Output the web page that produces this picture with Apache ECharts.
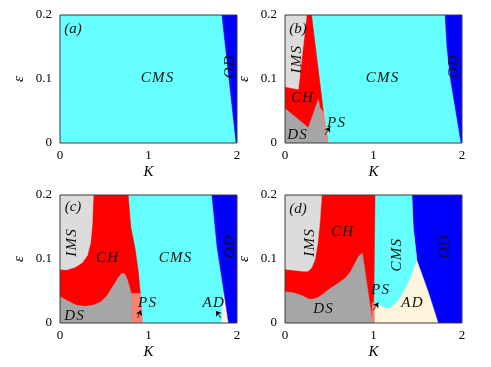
<!DOCTYPE html>
<html>
<head>
<meta charset="utf-8">
<script src="https://cdn.jsdelivr.net/npm/echarts@6/dist/echarts.min.js"></script>
<style>
html, body { margin: 0; background: #fff; }
#main { width: 491px; height: 367px; }
</style>
</head>
<body>
<div id="main"></div>
<script>
// ticks
var kTicks = [0, 1, 2];
var epsTicks = [0, 0.1, 0.2];

// region boundaries, [K, eps]
// (a)
var cmsA = [[0, 0], [2, 0], [2, 0.2], [0, 0.2]];
var odA = [[1.83, 0.2], [2, 0.2], [2, 0], [1.99, 0]];

// (b)
var cmsB = [[0, 0], [2, 0], [2, 0.2], [0, 0.2]];
var odB = [[1.81, 0.2], [2, 0.2], [2, 0], [1.99, 0], [1.93, 0.05], [1.87, 0.1], [1.83, 0.15]];
var chB = [[0, 0.2], [0.3, 0.2], [0.435, 0.048], [0.42, 0], [0, 0]];
var psB = [[0.4, 0.055], [0.435, 0.048], [0.49, 0], [0.42, 0]];
var dsB = [[0, 0], [0, 0.054], [0.264, 0.024], [0.377, 0.068], [0.47, 0]];
var imsB = [[0, 0.2], [0.245, 0.2], [0.15, 0.084], [0, 0.088]];

// (c)
var cmsC = [[0, 0], [2, 0], [2, 0.2], [0, 0.2]];
var adC = [[1.845, 0.045], [1.95, 0.045], [1.95, 0], [1.825, 0]];
var odC = [[1.717, 0.2], [2, 0.2], [2, 0], [1.905, 0], [1.84, 0.06], [1.774, 0.12]];
var chC = [[0, 0.2], [0.77, 0.2], [0.8, 0.15], [0.85, 0.115], [0.885, 0.08], [0.905, 0.05], [0.91, 0.046], [0.81, 0.046], [0.81, 0], [0, 0]];
var psC = [[0.81, 0.046], [0.91, 0.046], [0.935, 0], [0.81, 0]];
var dsC = [[0, 0], [0, 0.041], [0.08, 0.035], [0.18, 0.028], [0.28, 0.026], [0.38, 0.028], [0.46, 0.033],
  [0.53, 0.042], [0.6, 0.058], [0.66, 0.071], [0.7, 0.078], [0.73, 0.077], [0.76, 0.068], [0.79, 0.054], [0.81, 0.044], [0.81, 0]];
var imsC = [[0, 0.2], [0.377, 0.2], [0.365, 0.155], [0.345, 0.125], [0.31, 0.106], [0.25, 0.094], [0.17, 0.087], [0.07, 0.083], [0, 0.084]];

// (d)
var adD = [[0, 0], [2, 0], [2, 0.2], [0, 0.2]];
var odD = [[1.434, 0.2], [2, 0.2], [2, 0], [1.736, 0], [1.62, 0.05], [1.49, 0.1], [1.45, 0.148]];
var cmsD = [[1.0, 0.2], [1.434, 0.2], [1.45, 0.148], [1.49, 0.1], [1.413, 0.07], [1.337, 0.049], [1.262, 0.033],
  [1.186, 0.024], [1.13, 0.024], [1.073, 0.029], [1.04, 0.031], [1.0, 0.03]];
var chD = [[0, 0.2], [1.017, 0.2], [1.005, 0.05], [0.998, 0], [0, 0]];
var psD = [[0.985, 0.032], [1.008, 0.032], [1.01, 0], [0.985, 0]];
var dsD = [[0, 0], [0, 0.049], [0.1, 0.047], [0.19, 0.043], [0.26, 0.038], [0.3, 0.037], [0.36, 0.039], [0.42, 0.044],
  [0.49, 0.052], [0.58, 0.06], [0.68, 0.07], [0.74, 0.08], [0.79, 0.093], [0.83, 0.104], [0.874, 0.109], [0.99, 0]];
var imsD = [[0, 0.2], [0.415, 0.2], [0.395, 0.16], [0.37, 0.125], [0.34, 0.1], [0.3, 0.086], [0.26, 0.081], [0.2, 0.081], [0, 0.084]];

var col = {
  CMS: '#66ffff', OD: '#0000ff', CH: '#ff0000', IMS: '#dcdcdc',
  DS: '#a6a6a6', PS: '#fa8072', AD: '#fdf5dc'
};

// text placement [K, eps, text, rotated]
var notesA = [[0.147, 0.178, '(a)', 0], [1.096, 0.102, 'CMS', 0], [1.92, 0.119, 'OD', 1]];
var notesB = [[0.147, 0.178, '(b)', 0], [0.136, 0.13, 'IMS', 1], [1.096, 0.102, 'CMS', 0], [1.91, 0.119, 'OD', 1],
  [0.192, 0.07, 'CH', 0], [0.136, 0.0125, 'DS', 0], [0.576, 0.031, 'PS', 0]];
var notesC = [[0.147, 0.181, '(c)', 0], [0.136, 0.125, 'IMS', 1], [0.531, 0.102, 'CH', 0], [1.3, 0.102, 'CMS', 0],
  [1.92, 0.119, 'OD', 1], [0.983, 0.031, 'PS', 0], [0.158, 0.011, 'DS', 0], [1.73, 0.031, 'AD', 0]];
var notesD = [[0.147, 0.178, '(d)', 0], [0.282, 0.125, 'IMS', 1], [0.644, 0.142, 'CH', 0], [1.266, 0.106, 'CMS', 1],
  [1.81, 0.119, 'OD', 1], [1.073, 0.052, 'PS', 0], [0.429, 0.022, 'DS', 0], [1.435, 0.031, 'AD', 0]];

var arrowsB = [[[0.452, 0.0125], [0.508, 0.025]]];
var arrowsC = [[[0.878, 0.0083], [0.915, 0.02]], [[1.82, 0.0078], [1.763, 0.019]]];
var arrowsD = [[[0.998, 0.02], [1.054, 0.032]]];

var panels = [
  { left: 60, top: 15, regions: [[cmsA, 'CMS'], [odA, 'OD']], notes: notesA, arrows: [] },
  { left: 285, top: 15, regions: [[cmsB, 'CMS'], [odB, 'OD'], [chB, 'CH'], [psB, 'PS'], [dsB, 'DS'], [imsB, 'IMS']], notes: notesB, arrows: arrowsB },
  { left: 60, top: 195, regions: [[cmsC, 'CMS'], [adC, 'AD'], [odC, 'OD'], [chC, 'CH'], [psC, 'PS'], [dsC, 'DS'], [imsC, 'IMS']], notes: notesC, arrows: arrowsC },
  { left: 285, top: 195, regions: [[adD, 'AD'], [odD, 'OD'], [cmsD, 'CMS'], [chD, 'CH'], [psD, 'PS'], [dsD, 'DS'], [imsD, 'IMS']], notes: notesD, arrows: arrowsD }
];

var serif = '"Liberation Serif", "DejaVu Serif", serif';
var grids = [], xAxes = [], yAxes = [], series = [];

// thin gaps between letters, a bit like the math italic of the original
function spaced(s) {
  return s.charAt(0) === '(' ? s : s.split('').join('\u200a');
}

panels.forEach(function (p, i) {
  grids.push({ left: p.left, top: p.top, width: 177, height: 128 });
  xAxes.push({
    gridIndex: i, type: 'value', min: kTicks[0], max: kTicks[kTicks.length - 1], interval: 1,
    name: 'K', nameLocation: 'middle', nameGap: 22,
    nameTextStyle: { fontFamily: serif, fontStyle: 'italic', fontSize: 15, color: '#000' },
    axisLine: { show: false }, axisTick: { show: false }, splitLine: { show: false },
    axisLabel: { fontFamily: serif, fontSize: 13, color: '#000', margin: 6 }
  });
  yAxes.push({
    gridIndex: i, type: 'value', min: epsTicks[0], max: epsTicks[epsTicks.length - 1], interval: 0.1,
    name: 'ε', nameLocation: 'middle', nameGap: 33,
    nameTextStyle: { fontFamily: serif, fontStyle: 'italic', fontSize: 15, color: '#000' },
    axisLine: { show: false }, axisTick: { show: false }, splitLine: { show: false },
    axisLabel: { fontFamily: serif, fontSize: 13, color: '#000', margin: 8 }
  });

  p.regions.forEach(function (r) {
    var pts = r[0], c = col[r[1]];
    series.push({
      type: 'custom', xAxisIndex: i, yAxisIndex: i, clip: true, silent: true,
      data: [[0, 0]],
      renderItem: function (params, api) {
        return {
          type: 'polygon',
          shape: { points: pts.map(function (q) { return api.coord(q); }) },
          style: { fill: c, stroke: c, lineWidth: 0.5 }
        };
      }
    });
  });

  // frame
  series.push({
    type: 'custom', xAxisIndex: i, yAxisIndex: i, silent: true, z: 10,
    data: [[0, 0]],
    renderItem: function (params, api) {
      var a = api.coord([0, 0.2]), b = api.coord([2, 0]);
      return {
        type: 'rect',
        shape: { x: a[0], y: a[1], width: b[0] - a[0], height: b[1] - a[1] },
        style: { fill: 'none', stroke: '#3a3a3a', lineWidth: 1 }
      };
    }
  });

  // labels
  series.push({
    type: 'custom', xAxisIndex: i, yAxisIndex: i, silent: true, z: 11,
    data: p.notes.map(function (n) { return [n[0], n[1]]; }),
    renderItem: function (params, api) {
      var n = p.notes[params.dataIndex];
      var pt = api.coord([n[0], n[1]]);
      return {
        type: 'text', x: pt[0], y: pt[1], rotation: n[3] ? Math.PI / 2 : 0,
        style: {
          text: spaced(n[2]), font: 'italic 15px ' + serif, fill: '#111',
          align: 'center', verticalAlign: 'middle'
        }
      };
    }
  });

  if (p.arrows.length) {
    series.push({
      type: 'lines', coordinateSystem: 'cartesian2d', xAxisIndex: i, yAxisIndex: i, silent: true, z: 12,
      symbol: ['none', 'arrow'], symbolSize: 5,
      lineStyle: { color: '#000', width: 0.8, opacity: 1 },
      data: p.arrows.map(function (a) { return { coords: a }; })
    });
  }
});

var chart = echarts.init(document.getElementById('main'));
chart.setOption({
  animation: false,
  grid: grids,
  xAxis: xAxes,
  yAxis: yAxes,
  series: series
});
</script>
</body>
</html>
